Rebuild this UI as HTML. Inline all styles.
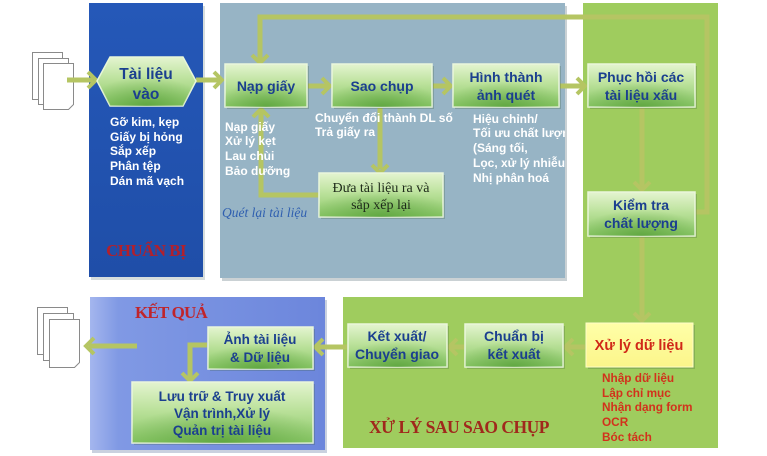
<!DOCTYPE html>
<html><head><meta charset="utf-8"><style>
html,body{margin:0;padding:0;background:#fff;}
svg{display:block;}
.b{font-family:"Liberation Sans",sans-serif;font-weight:bold;}
</style></head><body>
<svg width="767" height="456" viewBox="0 0 767 456" xmlns="http://www.w3.org/2000/svg">
<defs>
<linearGradient id="gBox" x1="0" y1="0" x2="0" y2="1">
<stop offset="0" stop-color="#e4f4d0"/><stop offset="0.45" stop-color="#bce29c"/><stop offset="1" stop-color="#88c664"/>
</linearGradient>
<radialGradient id="gGlow" cx="0.5" cy="1" r="0.6">
<stop offset="0" stop-color="#4f9a32" stop-opacity="0.7"/><stop offset="1" stop-color="#4f9a32" stop-opacity="0"/>
</radialGradient>
<linearGradient id="gBlue" x1="0" y1="0" x2="0" y2="1">
<stop offset="0" stop-color="#2558b8"/><stop offset="1" stop-color="#1f4ea8"/>
</linearGradient>
<linearGradient id="gRes" x1="0" y1="0" x2="1" y2="0">
<stop offset="0" stop-color="#a4b6ee"/><stop offset="0.12" stop-color="#8099e4"/><stop offset="1" stop-color="#6c86dc"/>
</linearGradient>
<linearGradient id="gYel" x1="0" y1="0" x2="0" y2="1">
<stop offset="0" stop-color="#ffffa8"/><stop offset="1" stop-color="#fbf58a"/>
</linearGradient>
<clipPath id="cg"><rect x="220" y="3" width="345" height="275"/></clipPath>
</defs>

<!-- panels -->
<rect x="91" y="6" width="114" height="274" fill="#9aa" opacity="0.4"/>
<rect x="89" y="3" width="114" height="274" fill="url(#gBlue)"/>
<rect x="222" y="6" width="345" height="275" fill="#8a9aa0" opacity="0.45"/>
<rect x="220" y="3" width="345" height="275" fill="#97b4c5"/>
<polygon points="583,3 718,3 718,448 343,448 343,297 583,297" fill="#9fcc5e"/>
<rect x="92" y="300" width="235" height="153" fill="#8a98b8" opacity="0.45"/>
<rect x="90" y="297" width="235" height="153" fill="url(#gRes)"/>

<!-- doc icons -->
<g fill="#fff" stroke="#8a8a8a" stroke-width="1">
<path d="M32.5,52.5h30v47h-30z"/>
<path d="M38.5,58.5h30v46h-30z"/>
<path d="M43.5,63.5h30v41l-5,5h-25z"/>
<path d="M37.5,307.5h30v47h-30z"/>
<path d="M43.5,313.5h30v47h-30z"/>
<path d="M49.5,319.5h30v43l-5,5h-25z"/>
</g>

<!-- connectors -->
<g fill="none" stroke="#b5c563" stroke-width="5" stroke-linejoin="miter">
<path d="M67,80H93"/>
<path d="M196,80H220"/>
<path d="M308,86H328"/>
<path d="M433,86H449"/>
<path d="M560,86H583"/>
<path d="M642,108V188"/>
<path d="M696,212H707V17H260V60"/>
<path d="M642,237V318"/>
<path d="M380,108V169"/>
<path d="M319,195H261V111"/>
<path d="M585,347H567"/>
<path d="M464,347H451"/>
<path d="M347,347H317"/>
<path d="M207,345H190V378"/>
<path d="M137,346H89"/>
</g>
<g fill="none" stroke="#b5c563" stroke-width="4" stroke-linejoin="miter">
<path d="M88,72L96,80L88,88"/>
<path d="M214,72L222,80L214,88"/>
<path d="M322,78L330,86L322,94"/>
<path d="M443,78L451,86L443,94"/>
<path d="M577,78L585,86L577,94"/>
<path d="M634,182L642,190L650,182"/>
<path d="M252,55L260,63L268,55"/>
<path d="M634,313L642,321L650,313"/>
<path d="M372,165L380,173L388,165"/>
<path d="M253,117L261,109L269,117"/>
<path d="M573,339L565,347L573,355"/>
<path d="M457,339L449,347L457,355"/>
<path d="M323,339L315,347L323,355"/>
<path d="M182,373L190,381L198,373"/>
<path d="M94,338L86,346L94,354"/>
</g>

<!-- hexagon -->
<polygon points="97,81 110,57 183,57 196,81 183,106 110,106" fill="url(#gBox)" stroke="#e8f6d8" stroke-width="1.5"/>
<polygon points="97,81 110,57 183,57 196,81 183,106 110,106" fill="url(#gGlow)"/>
<text class="b" x="146" y="79" font-size="15.5" fill="#1b3f8f" text-anchor="middle">Tài liệu</text>
<text class="b" x="146" y="99" font-size="15.5" fill="#1b3f8f" text-anchor="middle">vào</text>

<!-- box shadows -->
<g fill="#3a5a3a" opacity="0.25">
<rect x="227" y="66" width="82" height="43"/>
<rect x="334" y="66" width="100" height="43"/>
<rect x="455" y="66" width="106" height="43"/>
<rect x="590" y="66" width="107" height="43"/>
<rect x="590" y="194" width="107" height="44"/>
<rect x="321" y="175" width="124" height="44"/>
<rect x="467" y="326" width="98" height="43"/>
<rect x="350" y="326" width="99" height="43"/>
<rect x="210" y="329" width="105" height="42"/>
<rect x="134" y="384" width="181" height="61"/>
<rect x="588" y="325" width="107" height="44"/>
</g>

<!-- boxes -->
<g stroke="#eaf6dc" stroke-width="1.5">
<rect x="225" y="64" width="82" height="43" fill="url(#gBox)"/>
<rect x="332" y="64" width="100" height="43" fill="url(#gBox)"/>
<rect x="453" y="64" width="106" height="43" fill="url(#gBox)"/>
<rect x="588" y="64" width="107" height="43" fill="url(#gBox)"/>
<rect x="588" y="192" width="107" height="44" fill="url(#gBox)"/>
<rect x="319" y="173" width="124" height="44" fill="url(#gBox)"/>
<rect x="465" y="324" width="98" height="43" fill="url(#gBox)"/>
<rect x="348" y="324" width="99" height="43" fill="url(#gBox)"/>
<rect x="208" y="327" width="105" height="42" fill="url(#gBox)"/>
<rect x="132" y="382" width="181" height="61" fill="url(#gBox)"/>
</g>
<g>
<rect x="225" y="64" width="82" height="43" fill="url(#gGlow)"/>
<rect x="332" y="64" width="100" height="43" fill="url(#gGlow)"/>
<rect x="453" y="64" width="106" height="43" fill="url(#gGlow)"/>
<rect x="588" y="64" width="107" height="43" fill="url(#gGlow)"/>
<rect x="588" y="192" width="107" height="44" fill="url(#gGlow)"/>
<rect x="319" y="173" width="124" height="44" fill="url(#gGlow)"/>
<rect x="465" y="324" width="98" height="43" fill="url(#gGlow)"/>
<rect x="348" y="324" width="99" height="43" fill="url(#gGlow)"/>
<rect x="208" y="327" width="105" height="42" fill="url(#gGlow)"/>
<rect x="132" y="382" width="181" height="61" fill="url(#gGlow)"/>
</g>
<rect x="586" y="323" width="107" height="44" fill="url(#gYel)" stroke="#fffcc8" stroke-width="1"/>

<!-- box labels -->
<g class="b" fill="#1b3f8f" font-size="14" text-anchor="middle">
<text x="266" y="91">Nạp giấy</text>
<text x="382" y="91">Sao chụp</text>
<text x="506" y="82">Hình thành</text>
<text x="506" y="100">ảnh quét</text>
<text x="641" y="82">Phục hồi các</text>
<text x="641" y="100">tài liệu xấu</text>
<text x="641" y="210">Kiểm tra</text>
<text x="641" y="228">chất lượng</text>
<text x="514" y="341">Chuẩn bị</text>
<text x="514" y="359">kết xuất</text>
<text x="397" y="341">Kết xuất/</text>
<text x="397" y="359">Chuyển giao</text>
<text x="260" y="344" font-size="13.5">Ảnh tài liệu</text>
<text x="260" y="362" font-size="13.5">&amp; Dữ liệu</text>
<text x="222" y="401" font-size="13.5">Lưu trữ &amp; Truy xuất</text>
<text x="222" y="418" font-size="13.5">Vận trình,Xử lý</text>
<text x="222" y="435" font-size="13.5">Quản trị tài liệu</text>
</g>
<text class="b" x="639" y="350" font-size="14.5" fill="#d02818" text-anchor="middle">Xử lý dữ liệu</text>
<g font-family="'Liberation Serif',serif" font-size="14" fill="#1e2a1a" text-anchor="middle">
<text x="381" y="192">Đưa tài liệu ra và</text>
<text x="381" y="209">sắp xếp lại</text>
</g>

<!-- white notes -->
<g class="b" fill="#fff" font-size="12">
<text x="110" y="126">Gỡ kim, kẹp</text>
<text x="110" y="141">Giấy bị hỏng</text>
<text x="110" y="155">Sắp xếp</text>
<text x="110" y="170">Phân tệp</text>
<text x="110" y="185">Dán mã vạch</text>
<text x="225" y="131">Nạp giấy</text>
<text x="225" y="145">Xử lý kẹt</text>
<text x="225" y="160">Lau chùi</text>
<text x="225" y="175">Bảo dưỡng</text>
<text x="315" y="122">Chuyển đổi thành  DL số</text>
<text x="315" y="136">Trả giấy ra</text>
<g clip-path="url(#cg)">
<text x="473" y="123">Hiệu chỉnh/</text>
<text x="473" y="137">Tối ưu chất lượng</text>
<text x="473" y="152">(Sáng tối,</text>
<text x="473" y="167">Lọc, xử lý nhiễu)</text>
<text x="473" y="182">Nhị phân hoá</text>
</g>
</g>

<!-- red list -->
<g class="b" fill="#d2321c" font-size="11.8">
<text x="602" y="382">Nhập dữ liệu</text>
<text x="602" y="397">Lập chỉ mục</text>
<text x="602" y="411">Nhận dạng form</text>
<text x="602" y="426">OCR</text>
<text x="602" y="441">Bóc tách</text>
</g>

<!-- titles -->
<text x="146" y="256" font-family="'Liberation Serif',serif" font-weight="bold" font-size="17" fill="#b2202c" text-anchor="middle" letter-spacing="-0.6">CHUẨN BỊ</text>
<text x="171" y="318" font-family="'Liberation Serif',serif" font-weight="bold" font-size="17" fill="#c0242a" text-anchor="middle" letter-spacing="-0.8">KẾT QUẢ</text>
<text x="459" y="433" font-family="'Liberation Serif',serif" font-weight="bold" font-size="17.5" fill="#a0281c" text-anchor="middle" letter-spacing="-0.5">XỬ LÝ SAU SAO CHỤP</text>
<text x="222" y="217" font-family="'Liberation Serif',serif" font-style="italic" font-size="13.5" fill="#2f5fb0">Quét lại tài liệu</text>
</svg>
</body></html>
